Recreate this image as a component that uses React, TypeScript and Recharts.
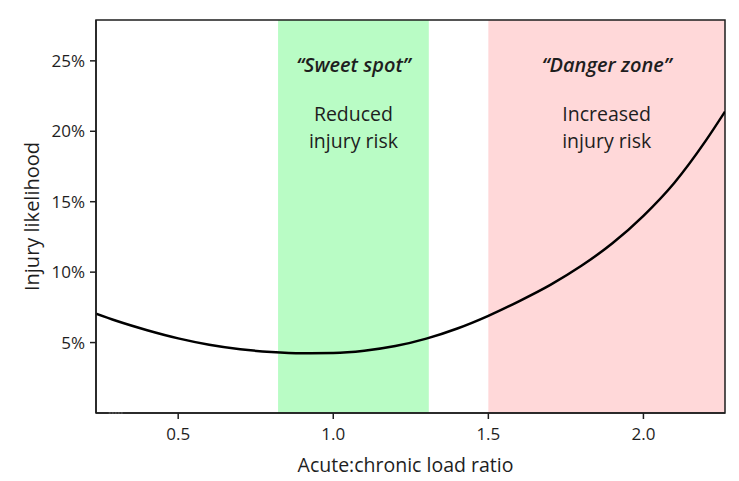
import { LineChart, Line, XAxis, YAxis, ReferenceArea, ReferenceLine } from 'recharts';

// acute:chronic load ratio vs injury likelihood (%)
const ratios = [0.235, 0.3, 0.4, 0.5, 0.6, 0.7, 0.8, 0.9, 1.0, 1.1, 1.2, 1.3, 1.4, 1.5, 1.6, 1.7, 1.8, 1.9, 2.0, 2.1, 2.2, 2.263];
const likelihood = [7.05, 6.55, 5.88, 5.3, 4.85, 4.53, 4.33, 4.24, 4.26, 4.42, 4.75, 5.28, 6.0, 6.9, 7.95, 9.1, 10.45, 12.05, 14.0, 16.35, 19.3, 21.4];

const xTicks = [0.5, 1.0, 1.5, 2.0];
const yTicks = [5, 10, 15, 20, 25];

const sweetSpot = [0.822, 1.308];
const dangerZone = [1.5, 2.263];
const rugMarks = [0.276, 0.324];

const X_DOMAIN = [0.235, 2.263];
const Y_DOMAIN = [0, 27.9];

const data = ratios.map((r, i) => ({ ratio: r, risk: likelihood[i] }));

const FONT = '"Open Sans", sans-serif';
const INK = '#1e1e1e';

const zoneLabel = (title: string, line1: string, line2: string) => (props: any) => {
  const { viewBox } = props;
  const cx = viewBox.x + viewBox.width / 2;
  return (
    <g fontFamily={FONT} fill={INK} textAnchor="middle">
      <text x={cx} y={72} fontSize={20} fontStyle="italic" fontWeight={600}>{`\u201C${title}\u201D`}</text>
      <text x={cx} y={121} fontSize={19.5}>{line1}</text>
      <text x={cx} y={148} fontSize={19.5}>{line2}</text>
    </g>
  );
};

export default function App() {
  return (
    <div>
      <style>{`body{margin:0}`}</style>
      <LineChart width={739} height={481} data={data} margin={{ top: 20, right: 14, bottom: 28, left: 0 }}>
        <ReferenceArea x1={sweetSpot[0]} x2={sweetSpot[1]} y1={Y_DOMAIN[0]} y2={Y_DOMAIN[1]} fill="#b9fcc5" fillOpacity={1} stroke="none"
          label={zoneLabel('Sweet spot', 'Reduced', 'injury risk')} />
        <ReferenceArea x1={dangerZone[0]} x2={dangerZone[1]} y1={Y_DOMAIN[0]} y2={Y_DOMAIN[1]} fill="#ffd8d9" fillOpacity={1} stroke="none"
          label={zoneLabel('Danger zone', 'Increased', 'injury risk')} />
        <XAxis
          dataKey="ratio"
          type="number"
          domain={X_DOMAIN}
          allowDataOverflow
          ticks={xTicks}
          tickFormatter={(v: number) => v.toFixed(1)}
          height={40}
          tickSize={6}
          tickMargin={9}
          stroke={INK}
          strokeWidth={1.5}
          tick={{ fill: INK, fontSize: 17, fontFamily: FONT }}
          label={{
            content: (p: any) => (
              <text x={p.viewBox.x + p.viewBox.width / 2 - 5} y={472} textAnchor="middle" fontSize={19.5} fontFamily={FONT} fill={INK}>
                Acute:chronic load ratio
              </text>
            ),
          }}
        />
        <YAxis
          type="number"
          domain={Y_DOMAIN}
          allowDataOverflow
          ticks={yTicks}
          tickFormatter={(v: number) => `${v}%`}
          width={96}
          tickSize={6}
          tickMargin={5}
          stroke={INK}
          strokeWidth={1.5}
          tick={{ fill: INK, fontSize: 17, fontFamily: FONT }}
          label={{
            content: (p: any) => {
              const cy = p.viewBox.y + p.viewBox.height / 2;
              return (
                <text x={39} y={cy} transform={`rotate(-90 39 ${cy})`} textAnchor="middle" fontSize={20} fontFamily={FONT} fill={INK}>
                  Injury likelihood
                </text>
              );
            },
          }}
        />
        <ReferenceLine segment={[{ x: rugMarks[0], y: 0 }, { x: rugMarks[1], y: 0 }]} stroke="#fff" strokeWidth={1.5} strokeDasharray="2 1" ifOverflow="visible" />
        <Line type="monotone" dataKey="risk" stroke="#000" strokeWidth={2.5} dot={false} isAnimationActive={false} />
        <ReferenceArea x1={X_DOMAIN[0]} x2={X_DOMAIN[1]} y1={Y_DOMAIN[0]} y2={Y_DOMAIN[1]} fill="none" stroke={INK} strokeWidth={1.5} ifOverflow="visible" />
      </LineChart>
    </div>
  );
}
